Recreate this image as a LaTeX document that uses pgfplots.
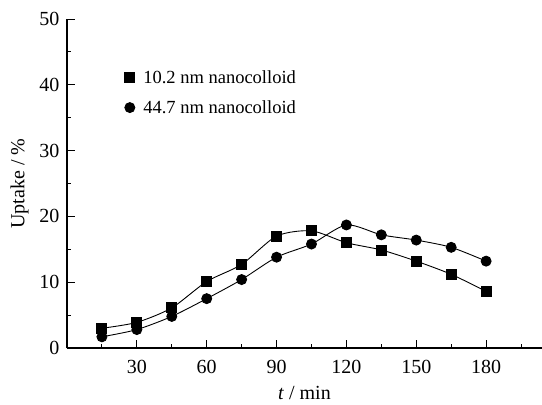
\documentclass[border=0pt]{standalone}
\usepackage{fontspec}
\setmainfont{Liberation Serif}
\usepackage{pgfplots}
\pgfplotsset{compat=1.18}
\pgfplotsset{markonly legend/.style={
    legend image code/.code={\path (0pt,0pt) (17pt,0pt); \draw[##1] plot coordinates {(6pt,0pt)};}}}

\pgfplotstableread{
t    u
15   3.0
30   3.9
45   6.1
60   10.1
75   12.7
90   17.0
105  17.8
120  16.0
135  14.9
150  13.2
165  11.2
180  8.6
}\smallnc

\pgfplotstableread{
t    u
15   1.7
30   2.8
45   4.8
60   7.5
75   10.4
90   13.8
105  15.8
120  18.7
135  17.2
150  16.4
165  15.3
180  13.2
}\largenc

\begin{document}
\begin{tikzpicture}[x=1pt,y=1pt]
\begin{axis}[
    scale only axis,
    width=475pt, height=329pt,
    xmin=0, xmax=204,
    ymin=0, ymax=50,
    axis lines=left,
    axis line style={-, line width=1.3pt},
    tick align=inside,
    tick style={black, line width=1pt},
    major tick length=8pt,
    minor tick length=4pt,
    xtick={30,60,...,180},
    minor xtick={15,45,...,195},
    ytick={0,10,...,50},
    minor ytick={5,15,...,45},
    font=\fontsize{20}{23}\selectfont,
    /pgf/number format/assume math mode=true,
    xticklabel style={yshift=-9pt},
    yticklabel style={xshift=-4pt},
    xlabel={\textit{t} / min},
    ylabel={Uptake / \%},
    xlabel style={yshift=-5pt},
    ylabel style={yshift=4pt},
    legend style={at={(0.112,0.856)}, anchor=north west, draw=none, fill=none,
        font=\fontsize{18.5}{21.5}\selectfont, row sep=11.5pt},
    legend cell align=left,
    clip=false,
]
\addplot[black, line width=0.9pt, smooth, tension=0.45, mark=square*, mark size=5pt, markonly legend]
    table[x=t,y=u] {\smallnc};
\addlegendentry{10.2 nm nanocolloid}
\addplot[black, line width=0.9pt, smooth, tension=0.45, mark=*, mark size=5pt, markonly legend]
    table[x=t,y=u] {\largenc};
\addlegendentry{44.7 nm nanocolloid}
\end{axis}
\pgfresetboundingbox
\path (-67pt,-57pt) rectangle (475pt,348pt);
\end{tikzpicture}
\end{document}
